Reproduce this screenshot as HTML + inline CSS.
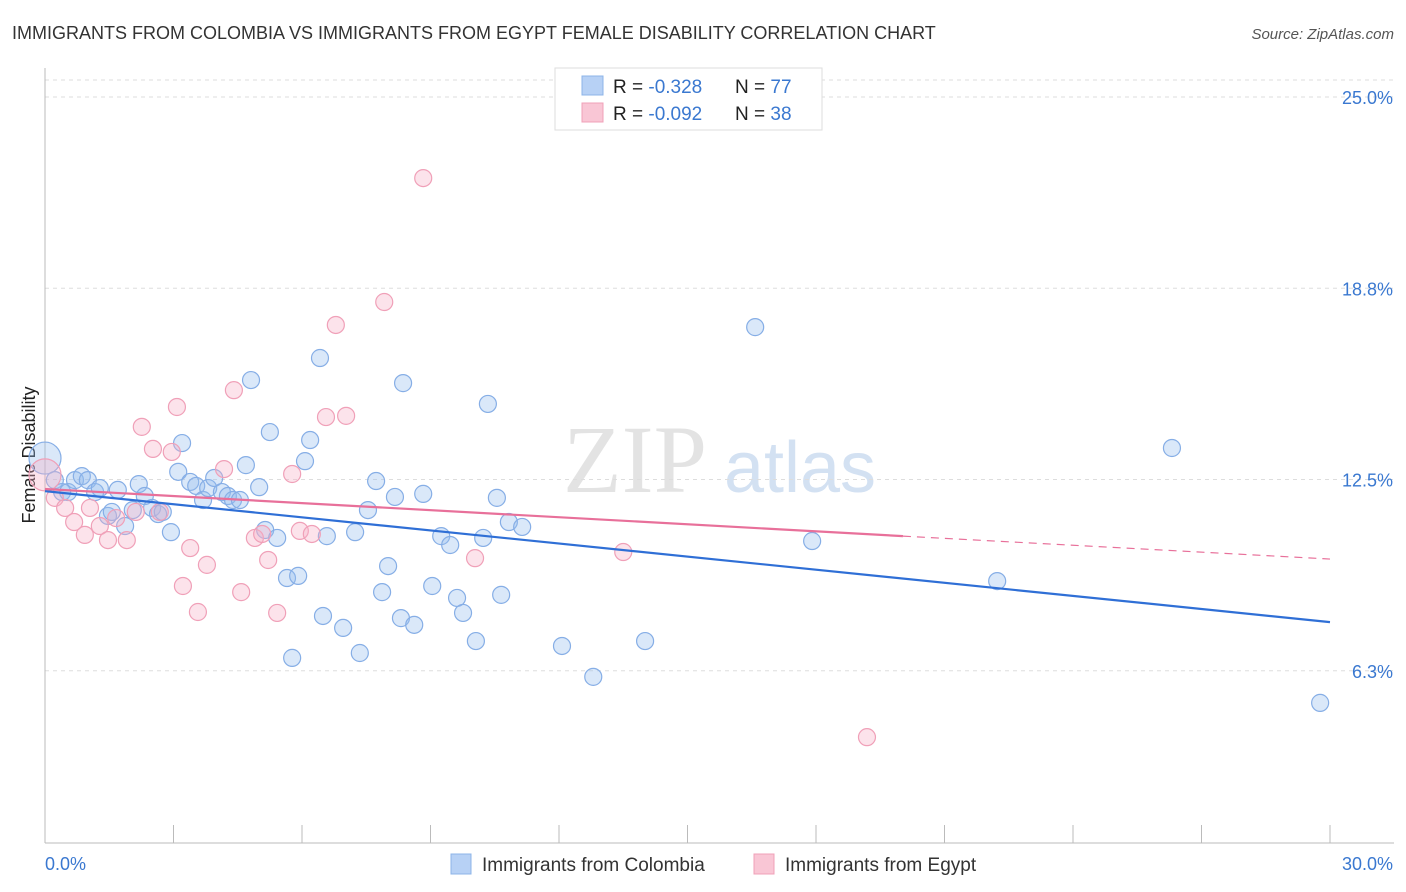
<!DOCTYPE html>
<html><head><meta charset="utf-8">
<style>
body{margin:0;background:#fff;font-family:"Liberation Sans",sans-serif;}
svg{display:block}
</style></head>
<body>
<svg id="chart" width="1406" height="892">
<text x="12" y="39" font-size="18" fill="#333">IMMIGRANTS FROM COLOMBIA VS IMMIGRANTS FROM EGYPT FEMALE DISABILITY CORRELATION CHART</text>
<text x="1394" y="39" font-size="15" fill="#555" font-style="italic" text-anchor="end">Source: ZipAtlas.com</text>
<text x="35" y="455" font-size="18" fill="#222" text-anchor="middle" transform="rotate(-90 35 455)">Female Disability</text>
<g>
<text x="635" y="492" font-size="96" fill="#ddd" font-family="Liberation Serif,serif" text-anchor="middle" opacity="0.8">ZIP</text>
<text x="800" y="492" font-size="72" fill="#c9daf0" text-anchor="middle" opacity="0.8">atlas</text>
</g>
<g id="grid"></g>
<g id="axes"></g>
<g id="marks"></g>
<g>
<rect x="555" y="68" width="267" height="62" fill="#fff" stroke="#ddd"/>
<rect x="582" y="76" width="21" height="19" fill="#b7d1f5" stroke="#8cb4e8"/>
<rect x="582" y="103" width="21" height="19" fill="#f9c6d5" stroke="#f0a0b8"/>
<text x="613" y="93" font-size="19" fill="#222">R = <tspan fill="#3a78d0"> -0.328</tspan><tspan x="735">N = </tspan><tspan fill="#3a78d0">77</tspan></text>
<text x="613" y="120" font-size="19" fill="#222">R = <tspan fill="#3a78d0">-0.092</tspan><tspan x="735">N = </tspan><tspan fill="#3a78d0">38</tspan></text>
</g>
<g>
<rect x="451" y="854" width="20" height="20" fill="#b7d1f5" stroke="#8cb4e8"/>
<text x="482" y="871" font-size="19" fill="#333">Immigrants from Colombia</text>
<rect x="754" y="854" width="20" height="20" fill="#f9c6d5" stroke="#f0a0b8"/>
<text x="785" y="871" font-size="19" fill="#333">Immigrants from Egypt</text>
</g>
</svg>
<script>
const blueX=[0,.23,.40,.54,.70,.86,1.00,1.17,1.28,1.47,1.56,1.70,1.87,2.05,2.19,2.33,2.50,2.64,2.75,2.94,3.11,3.20,3.39,3.53,3.69,3.81,3.95,4.13,4.27,4.39,4.55,4.69,4.81,5.00,5.14,5.25,5.42,5.65,5.77,5.91,6.07,6.19,6.42,6.49,6.58,6.96,7.24,7.35,7.54,7.73,7.87,8.01,8.17,8.31,8.36,8.62,8.83,9.04,9.25,9.46,9.62,9.76,10.06,10.23,10.34,10.55,10.65,10.83,11.14,12.07,12.80,14.01,16.58,17.91,22.23,26.31,29.77];
const blueY=[13.20,12.48,12.09,12.09,12.48,12.61,12.48,12.09,12.22,11.31,11.44,12.16,10.98,11.50,12.35,11.96,11.57,11.37,11.44,10.78,12.75,13.69,12.42,12.29,11.83,12.22,12.55,12.09,11.96,11.83,11.83,12.97,15.75,12.25,10.85,14.05,10.59,9.28,6.67,9.35,13.10,13.79,16.47,8.04,10.65,7.65,10.78,6.83,11.50,12.45,8.82,9.67,11.93,7.97,15.65,7.75,12.03,9.02,10.65,10.36,8.63,8.14,7.22,10.59,14.97,11.90,8.73,11.11,10.95,7.06,6.05,7.22,17.48,10.49,9.18,13.53,5.20];
const pinkX=[0,.23,.47,.68,.93,1.05,1.28,1.47,1.66,1.91,2.12,2.26,2.52,2.68,2.96,3.08,3.22,3.39,3.57,3.78,4.18,4.41,4.58,4.90,5.07,5.21,5.42,5.77,5.95,6.23,6.56,6.79,7.03,7.92,8.83,10.04,13.50,19.19];
const pinkY=[12.65,11.90,11.57,11.11,10.69,11.57,10.98,10.52,11.24,10.52,11.44,14.22,13.50,11.44,13.40,14.87,9.02,10.26,8.17,9.71,12.84,15.42,8.82,10.59,10.72,9.87,8.14,12.68,10.82,10.72,14.54,17.55,14.58,18.30,22.35,9.93,10.13,4.08];
const blueTrend=[[0,12.12],[30,7.84]];
const pinkTrend=[[0,12.19],[20.03,10.65]];
const pinkTrendDash=[[20.03,10.65],[30,9.90]];
const yTicks=[25,18.75,12.5,6.25];
const yTickLabels=["25.0%","18.8%","12.5%","6.3%"];
const xTicks=[0,3,6,9,12,15,18,21,24,27,30];

const NS="http://www.w3.org/2000/svg";
const sx=v=>45+v*42.833;
const sy=v=>862-v*30.6;
function mk(tag,attrs,parent){const e=document.createElementNS(NS,tag);for(const k in attrs)e.setAttribute(k,attrs[k]);document.getElementById(parent).appendChild(e);return e;}

let g=mk('line',{x1:45,x2:1394,y1:80,y2:80,stroke:'#ddd','stroke-dasharray':'4,4'},'grid');


yTicks.forEach((t,i)=>{
 const l=mk('line',{x1:45,x2:1394,y1:sy(t),y2:sy(t),stroke:'#ddd','stroke-dasharray':'4,4'},'grid');
 
 
 const tx=mk('text',{x:1393,y:sy(t)+7,'font-size':18,fill:'#3a78d0','text-anchor':'end'},'axes');
 tx.textContent=yTickLabels[i];
 
 
});
let a=mk('line',{x1:45,x2:45,y1:68,y2:843,stroke:'#bbb'},'axes');


a=mk('line',{x1:45,x2:1394,y1:843,y2:843,stroke:'#bbb'},'axes');


xTicks.forEach(t=>{
 const l=mk('line',{x1:sx(t),x2:sx(t),y1:825,y2:843,stroke:'#bbb'},'axes');
 
 
});
let xl=mk('text',{x:45,y:870,'font-size':18,fill:'#3a78d0'},'axes');xl.textContent='0.0%';


xl=mk('text',{x:1393,y:870,'font-size':18,fill:'#3a78d0','text-anchor':'end'},'axes');xl.textContent='30.0%';



function pts(xs,ys,fill,stroke,name){
 xs.forEach((x,i)=>{
  const c=mk('circle',{cx:sx(x),cy:sy(ys[i]),r:i===0?16:8.5,fill:fill,stroke:stroke,'stroke-width':1.2},'marks');
  
  
 });
}
pts(blueX,blueY,'rgba(150,188,238,0.35)','#86aee6','point-colombia');
pts(pinkX,pinkY,'rgba(246,176,198,0.35)','#f0a0b8','point-egypt');
function line(p,color,dash,name){
 const l=mk('line',{x1:sx(p[0][0]),y1:sy(p[0][1]),x2:sx(p[1][0]),y2:sy(p[1][1]),stroke:color,'stroke-width':dash?1.2:2.2},'marks');
 if(dash)l.setAttribute('stroke-dasharray','8,6');
 
 
}
line(blueTrend,'#2f6fd6',false,'trend-line-colombia');
line(pinkTrend,'#e8709a',false,'trend-line-egypt');
line(pinkTrendDash,'#e8709a',true,'trend-line-egypt-extension');
</script>
</body></html>
